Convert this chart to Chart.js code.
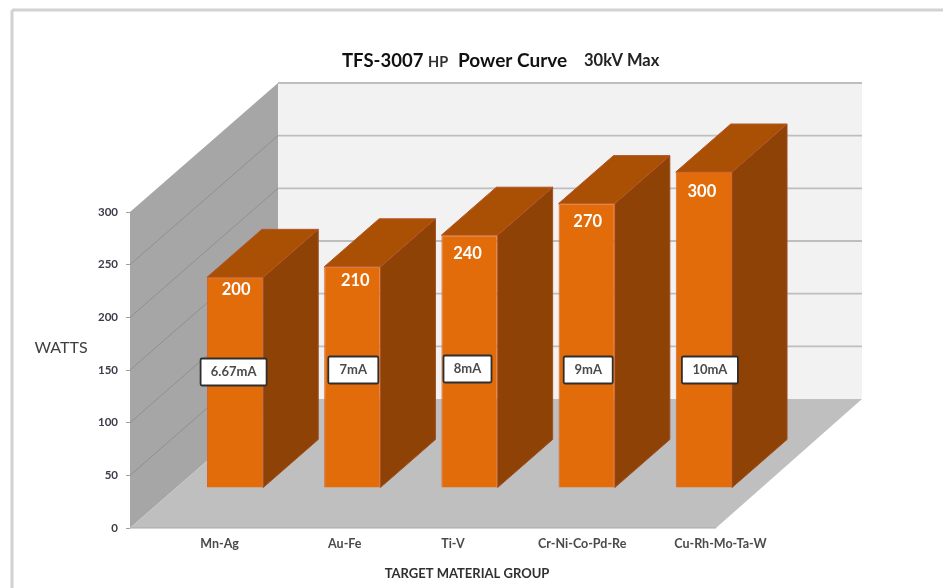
<!DOCTYPE html>
<html>
<head>
<meta charset="utf-8">
<title>TFS-3007 HP Power Curve</title>
<script src="https://cdn.jsdelivr.net/npm/chart.js@4"></script>
<style>
    html, body { margin: 0; padding: 0; background: #fff; overflow: hidden; }
    #chart-power { display: block; filter: blur(0.7px); }
</style>
</head>
<body>
<canvas id="chart-power" width="943" height="588"></canvas>
<script>
// Chart data
const categories = ['Mn-Ag', 'Au-Fe', 'Ti-V', 'Cr-Ni-Co-Pd-Re', 'Cu-Rh-Mo-Ta-W'];
const watts = [200, 210, 240, 270, 300];
const currents = ['6.67mA', '7mA', '8mA', '9mA', '10mA'];

// 3D look: how far the back wall and the bars are pushed into the picture
const WALL_DX = 148, WALL_DY = -129;
const WALL_RIGHT_DX = 146;
const BAR_DX = 46.5, BAR_DY = -40;
const SIDE_DX = 55, SIDE_DY = -48;

const FONT = 'Lato, "Open Sans", sans-serif';

// Hand placed labels in the original, so they need small nudges
const catLabelShift = [31, 39, 30, 42, 63];
const valueShiftX = [1, 3, -2, 1, -2];
const valueShiftY = [12, 14, 18, 18, 20];
const boxShiftX = [-1.5, 1, -2, 1.5, 6];
const boxShiftY = [2, 0, -1, 0, 0];
const boxWidth = [66, 50, 48, 49, 56];

function poly(ctx, pts, fill, stroke) {
    ctx.beginPath();
    pts.forEach((p, i) => i ? ctx.lineTo(p[0], p[1]) : ctx.moveTo(p[0], p[1]));
    ctx.closePath();
    ctx.fillStyle = fill;
    ctx.fill();
    if (stroke) {
        ctx.strokeStyle = stroke;
        ctx.lineWidth = 1;
        ctx.stroke();
    }
}

function line(ctx, x1, y1, x2, y2, color, width) {
    ctx.beginPath();
    ctx.moveTo(x1, y1);
    ctx.lineTo(x2, y2);
    ctx.strokeStyle = color;
    ctx.lineWidth = width;
    ctx.stroke();
}

function text(ctx, str, x, y, font, color, align) {
    ctx.font = font;
    ctx.fillStyle = color;
    ctx.textAlign = align || 'center';
    ctx.textBaseline = 'middle';
    ctx.fillText(str, x, y);
}

// Frame, walls and floor, behind everything else
const wallsPlugin = {
    id: 'walls',
    beforeDatasetsDraw(chart) {
        const ctx = chart.ctx;
        const y = chart.scales.y;
        const { left, right, top, bottom } = chart.chartArea;

        ctx.save();
        line(ctx, 12, 588, 12, 10, '#d2d2d2', 3);
        line(ctx, 12, 10, 943, 10, '#d2d2d2', 3);

        // back wall
        poly(ctx, [[left + WALL_DX, top + WALL_DY], [right + WALL_RIGHT_DX, top + WALL_DY],
            [right + WALL_RIGHT_DX, bottom + WALL_DY], [left + WALL_DX, bottom + WALL_DY]], '#f2f2f2');
        // side wall
        poly(ctx, [[left, top], [left + WALL_DX, top + WALL_DY],
            [left + WALL_DX, bottom + WALL_DY], [left, bottom]], '#a6a6a6');
        // floor
        poly(ctx, [[left, bottom], [right, bottom],
            [right + WALL_RIGHT_DX, bottom + WALL_DY], [left + WALL_DX, bottom + WALL_DY]], '#bfbfbf');
        line(ctx, left, bottom, right, bottom, '#a8a8a8', 1);

        // gridlines run along the side wall and across the back wall
        y.ticks.forEach(t => {
            const py = y.getPixelForValue(t.value);
            if (t.value > 0) {
                line(ctx, left + WALL_DX, py + WALL_DY, right + WALL_RIGHT_DX, py + WALL_DY, '#bebebe', 1.8);
                if (t.value < 300) line(ctx, left, py, left + WALL_DX, py + WALL_DY, '#8f8f8f', 1);
            }
        });
        ctx.restore();
    },
    // side and top faces of the bars, the front face is the real bar element
    beforeDatasetDraw(chart, args) {
        const ctx = chart.ctx;
        ctx.save();
        chart.getDatasetMeta(args.index).data.forEach(bar => {
            const x1 = bar.x - bar.width / 2 + BAR_DX;
            const x2 = bar.x + bar.width / 2 + BAR_DX;
            const yt = bar.y + BAR_DY;
            const yb = bar.base + BAR_DY;
            poly(ctx, [[x2, yt], [x2 + SIDE_DX, yt + SIDE_DY], [x2 + SIDE_DX, yb + SIDE_DY], [x2, yb]], '#8e4206', '#a04e22');
            poly(ctx, [[x1, yt], [x1 + SIDE_DX, yt + SIDE_DY], [x2 + SIDE_DX, yt + SIDE_DY], [x2, yt]], '#aa5005', '#b5552a');
        });
        ctx.restore();
        ctx.save();
        ctx.translate(BAR_DX, BAR_DY);
    },
    afterDatasetDraw(chart) {
        chart.ctx.restore();
    },
    // labels, titles and current boxes on top
    afterDatasetsDraw(chart) {
        const ctx = chart.ctx;
        const x = chart.scales.x;
        const y = chart.scales.y;
        const bars = chart.getDatasetMeta(0).data;

        ctx.save();
        bars.forEach((bar, i) => {
            text(ctx, String(watts[i]), bar.x + BAR_DX + valueShiftX[i], bar.y + BAR_DY + valueShiftY[i],
                'bold 16.5px ' + FONT, '#ffffff');

            const bx = bar.x + BAR_DX + boxShiftX[i];
            const by = y.getPixelForValue(150) + boxShiftY[i];
            const w = boxWidth[i], h = 27;
            ctx.beginPath();
            ctx.roundRect(bx - w / 2, by - h / 2, w, h, 1.5);
            ctx.fillStyle = '#ffffff';
            ctx.fill();
            ctx.strokeStyle = '#2e2e2e';
            ctx.lineWidth = 1.8;
            ctx.stroke();
            text(ctx, currents[i], bx, by, 'bold 13px ' + FONT, '#4a4a4a');

            text(ctx, categories[i], x.getPixelForValue(i) + catLabelShift[i], 544, 'bold 12.5px ' + FONT, '#4a4a4a');
        });

        text(ctx, 'WATTS', 61, 348, '16px ' + FONT, '#404040');
        text(ctx, 'TARGET MATERIAL GROUP', 467, 574, 'bold 13px ' + FONT, '#303030');

        text(ctx, 'TFS-3007', 342, 61, 'bold 18.5px ' + FONT, '#111111', 'left');
        text(ctx, 'HP', 428, 62, 'bold 14.5px ' + FONT, '#333333', 'left');
        text(ctx, 'Power Curve', 458, 61, 'bold 19px ' + FONT, '#111111', 'left');
        text(ctx, '30kV Max', 584, 61, 'bold 16.5px ' + FONT, '#222222', 'left');
        ctx.restore();
    }
};

new Chart(document.getElementById('chart-power'), {
    type: 'bar',
    data: {
        labels: categories,
        datasets: [{
            label: 'Watts',
            data: watts,
            backgroundColor: '#e36c0a',
            borderColor: '#d9652a',
            borderWidth: 1,
            barPercentage: 0.48,
            categoryPercentage: 1,
            clip: false
        }]
    },
    options: {
        responsive: false,
        animation: false,
        layout: { padding: { left: 90, right: 227, top: 212, bottom: 60 } },
        plugins: {
            legend: { display: false },
            tooltip: { enabled: false }
        },
        scales: {
            x: {
                afterFit(scale) { scale.height = 0; },
                ticks: { display: false },
                grid: { display: false },
                border: { display: false }
            },
            y: {
                min: 0,
                max: 300,
                afterFit(scale) { scale.width = 40; },
                ticks: {
                    stepSize: 50,
                    padding: 8,
                    color: '#3c3c4a',
                    font: { family: FONT, size: 11.5, weight: 'bold' }
                },
                grid: { drawOnChartArea: false, tickLength: 4, color: '#a0a0a0' },
                border: { display: false }
            }
        }
    },
    plugins: [wallsPlugin]
});
</script>
</body>
</html>
